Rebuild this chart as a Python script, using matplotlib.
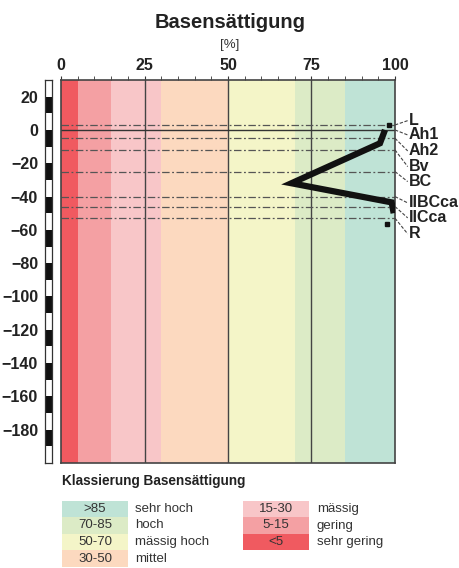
import numpy as np
import matplotlib.pyplot as plt
from matplotlib.patches import Rectangle

plt.rcParams['font.family'] = ['Liberation Sans', 'DejaVu Sans']

# classes of base saturation (lower, upper, colour)
class_edges = [0, 5, 15, 30, 50, 70, 85, 100]
class_colors = ['#f05a60', '#f4a0a3', '#f8c6c8', '#fcd9bf', '#f4f5c8', '#dcebc6', '#bfe3d6']
class_labels = ['<5', '5-15', '15-30', '30-50', '50-70', '70-85', '>85']
class_names = ['sehr gering', 'gering', 'mässig', 'mittel', 'mässig hoch', 'hoch', 'sehr hoch']

# soil horizons: name, top of horizon [cm], depth where label sits
horizon_names = ['L', 'Ah1', 'Ah2', 'Bv', 'BC', 'IIBCca', 'IICca', 'R']
horizon_tops = [3, 0, -5, -12, -25, -40, -46, -53]
label_depths = [5.6, -3.0, -12.6, -22.0, -31.0, -43.8, -52.8, -62.4]

# profile of base saturation
profile_depth = [0, -8, -32, -43.5, -50]
profile_value = [97, 95.5, 69, 99, 99.6]
marker_depth = [3, -56.5]
marker_value = [98.3, 97.7]

W, H = 460, 568
fig = plt.figure(figsize=(W / 100, H / 100), dpi=100)

def frac(x0, y0, x1, y1):
    return [x0 / W, 1 - y1 / H, (x1 - x0) / W, (y1 - y0) / H]

ax = fig.add_axes(frac(61, 80, 395, 463))
ax.set_xlim(0, 100)
ax.set_ylim(-200, 30)

for lo, hi, c in zip(class_edges[:-1], class_edges[1:], class_colors):
    ax.axvspan(lo, hi, color=c, lw=0, zorder=0)

for x in [25, 50, 75]:
    ax.axvline(x, color='#444444', lw=1.0, zorder=1)

for i, (name, top, ly) in enumerate(zip(horizon_names, horizon_tops, label_depths)):
    if top == 0:
        ax.axhline(top, color='#333333', lw=1.0, zorder=2)
    else:
        ax.axhline(top, color='#555555', lw=0.9, ls=(0, (6, 2, 1.5, 2)), zorder=2)
    ax.plot([100, 103.8], [top, ly], color='#444444', lw=0.8, ls=(0, (3, 1.5)),
            clip_on=False, zorder=2)
    ax.text(104.2, ly, name, fontsize=11.5, fontweight='bold', color='#222222',
            va='center', ha='left', clip_on=False)

ax.plot(profile_value, profile_depth, color='#111111', lw=4.5, solid_joinstyle='miter',
        solid_capstyle='butt', zorder=4)
ax.plot(marker_value, marker_depth, ls='none', marker='s', ms=3.5, color='#111111', zorder=5)

ax.xaxis.tick_top()
ax.set_xticks([0, 25, 50, 75, 100])
ax.set_xticks(np.arange(0, 101, 5), minor=True)
ax.tick_params(axis='x', which='both', direction='out', length=3, color='#333333',
               labelsize=11.5, pad=2, labelcolor='#222222')
for lab in ax.get_xticklabels():
    lab.set_fontweight('bold')
ax.set_yticks([])
for s in ax.spines.values():
    s.set_color('#444444')
    s.set_linewidth(1.2)

fig.text(230 / W, 1 - 22 / H, 'Basensättigung', fontsize=14.5, fontweight='bold',
         ha='center', va='center', color='#222222')
fig.text(230 / W, 1 - 45 / H, '[%]', fontsize=9.5, ha='center', va='center', color='#333333')

# depth scale bar
sb = fig.add_axes(frac(45, 80, 52, 463))
sb.set_xlim(0, 1)
sb.set_ylim(-200, 30)
for k, top in enumerate(range(30, -200, -10)):
    sb.add_patch(Rectangle((0, top - 10), 1, 10, color='#111111' if k % 2 else 'white', lw=0))
sb.set_xticks([])
sb.set_yticks(np.arange(20, -181, -20))
sb.tick_params(axis='y', length=0, pad=5, labelsize=11.5, labelcolor='#222222')
for lab in sb.get_yticklabels():
    lab.set_fontweight('bold')
for s in sb.spines.values():
    s.set_color('#333333')
    s.set_linewidth(0.9)

# legend
fig.text(62 / W, 1 - 481 / H, 'Klassierung Basensättigung', fontsize=9.8, fontweight='bold',
         ha='left', va='center', color='#222222')
col1 = [6, 5, 4, 3]
col2 = [2, 1, 0]
row_h = 16.5
for col, bx, tx in [(col1, 62, 135), (col2, 243, 317)]:
    for r, ci in enumerate(col):
        yc = 509 + r * row_h
        fig.patches.append(Rectangle((bx / W, 1 - (yc + row_h / 2) / H), 66 / W, row_h / H,
                                     color=class_colors[ci], lw=0, transform=fig.transFigure))
        fig.text((bx + 33) / W, 1 - yc / H, class_labels[ci], fontsize=9.5, ha='center',
                 va='center', color='#333333')
        fig.text(tx / W, 1 - yc / H, class_names[ci], fontsize=9.5, ha='left',
                 va='center', color='#333333')

fig.savefig('out.png', dpi=100)
